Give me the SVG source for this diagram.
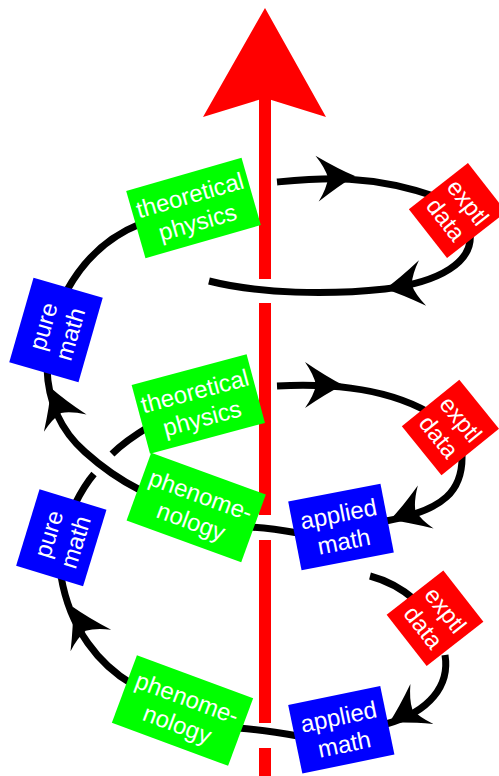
<svg xmlns="http://www.w3.org/2000/svg" width="499" height="776" viewBox="0 0 499 776">
<style>
.g{fill:#00ff00}
.b{fill:#0000ff}
.r{fill:#ff0000}
.t{font-family:"Liberation Sans",Arial,sans-serif;font-size:24px;fill:#ffffff;text-anchor:middle}
.ln{fill:none;stroke:#000000;stroke-width:7}
.ah{fill:#000000}
</style>
<defs>
<path id="ah" d="M0,0 Q-16,-8 -38,-23 Q-29,-10 -27,0 Q-29,10 -38,23 Q-16,8 0,0 Z"/>
</defs>
<rect width="499" height="776" fill="#ffffff"/>
<g id="axis" class="r">
<path d="M265,8 L326,117 L265,98 L203,117 Z"/>
<rect x="259" y="96" width="12" height="183"/>
<rect x="259" y="303" width="12" height="212"/>
<rect x="259" y="540" width="12" height="183"/>
<rect x="259" y="748" width="12" height="28"/>
</g>
<g id="connectors">
<path class="ln" d="M277,182 C320,178 370,173 440,198"/>
<path class="ln" d="M470,232 C474,262 440,282 385,289 C330,295 260,294 209,281"/>
<path class="ln" d="M140,224 C110,236 85,257 66,292"/>
<path class="ln" d="M47,368 C48,400 60,430 85,452 C105,470 120,480 140,490"/>
<path class="ln" d="M150,426 C135,435 122,444 112,454"/>
<path class="ln" d="M94,474 C88,481 82,490 75,504"/>
<path class="ln" d="M277,386 C320,384 380,385 428,412"/>
<path class="ln" d="M462,455 C463,490 445,510 386,521"/>
<path class="ln" d="M250,527 Q270,528 298,533"/>
<path class="ln" d="M370,576 C385,580 400,587 415,600"/>
<path class="ln" d="M445,655 C450,685 430,712 386,724"/>
<path class="ln" d="M238,728 Q265,730 298,736"/>
<path class="ln" d="M132,684 C100,665 70,630 61,576"/>
<use href="#ah" class="ah" transform="translate(355,176) rotate(-4)"/>
<use href="#ah" class="ah" transform="translate(385,289) rotate(171)"/>
<use href="#ah" class="ah" transform="translate(343,385) rotate(0)"/>
<use href="#ah" class="ah" transform="translate(390,520) rotate(160)"/>
<use href="#ah" class="ah" transform="translate(389,723) rotate(150)"/>
<use href="#ah" class="ah" transform="translate(73,607) rotate(-118)"/>
<use href="#ah" class="ah" transform="translate(51,388) rotate(-112)"/>
</g>
<g id="tp1" transform="translate(193.5,208) rotate(-16)">
<rect class="g" x="-60" y="-35" width="120" height="70"/>
<text class="t"><tspan x="0" y="-5">theoretical</tspan><tspan x="0" y="23">physics</tspan></text>
</g>
<g id="exptl1" transform="translate(457.5,210.5) rotate(52)">
<rect class="r" x="-31" y="-37.5" width="62" height="75"/>
<text class="t"><tspan x="0" y="-5">exptl</tspan><tspan x="0" y="23">data</tspan></text>
</g>
<g id="pm1" transform="translate(56,330) rotate(-74)">
<rect class="b" x="-44" y="-36" width="88" height="72"/>
<text class="t"><tspan x="0" y="-5">pure</tspan><tspan x="0" y="23">math</tspan></text>
</g>
<g id="tp2" transform="translate(198.3,404) rotate(-15)">
<rect class="g" x="-59.5" y="-35.5" width="119" height="71"/>
<text class="t"><tspan x="0" y="-5">theoretical</tspan><tspan x="0" y="23">physics</tspan></text>
</g>
<g id="exptl2" transform="translate(450.4,427.5) rotate(51)">
<rect class="r" x="-31.5" y="-37" width="63" height="74"/>
<text class="t"><tspan x="0" y="-5">exptl</tspan><tspan x="0" y="23">data</tspan></text>
</g>
<g id="pheno1" transform="translate(196.2,507.5) rotate(20)">
<rect class="g" x="-61" y="-36" width="122" height="72"/>
<text class="t"><tspan x="0" y="-5">phenome-</tspan><tspan x="0" y="23">nology</tspan></text>
</g>
<g id="am1" transform="translate(341,527) rotate(-11)">
<rect class="b" x="-47" y="-35" width="94" height="70"/>
<text class="t"><tspan x="0" y="-5">applied</tspan><tspan x="0" y="23">math</tspan></text>
</g>
<g id="pm2" transform="translate(61.3,537.8) rotate(-73)">
<rect class="b" x="-40" y="-35" width="80" height="70"/>
<text class="t"><tspan x="0" y="-5">pure</tspan><tspan x="0" y="23">math</tspan></text>
</g>
<g id="exptl3" transform="translate(435,618.2) rotate(52)">
<rect class="r" x="-32.5" y="-36" width="65" height="72"/>
<text class="t"><tspan x="0" y="-5">exptl</tspan><tspan x="0" y="23">data</tspan></text>
</g>
<g id="pheno2" transform="translate(182.5,710.5) rotate(20.4)">
<rect class="g" x="-62" y="-36" width="124" height="72"/>
<text class="t"><tspan x="0" y="-5">phenome-</tspan><tspan x="0" y="23">nology</tspan></text>
</g>
<g id="am2" transform="translate(341.3,729.8) rotate(-11.7)">
<rect class="b" x="-47" y="-35" width="94" height="70"/>
<text class="t"><tspan x="0" y="-5">applied</tspan><tspan x="0" y="23">math</tspan></text>
</g>
</svg>
